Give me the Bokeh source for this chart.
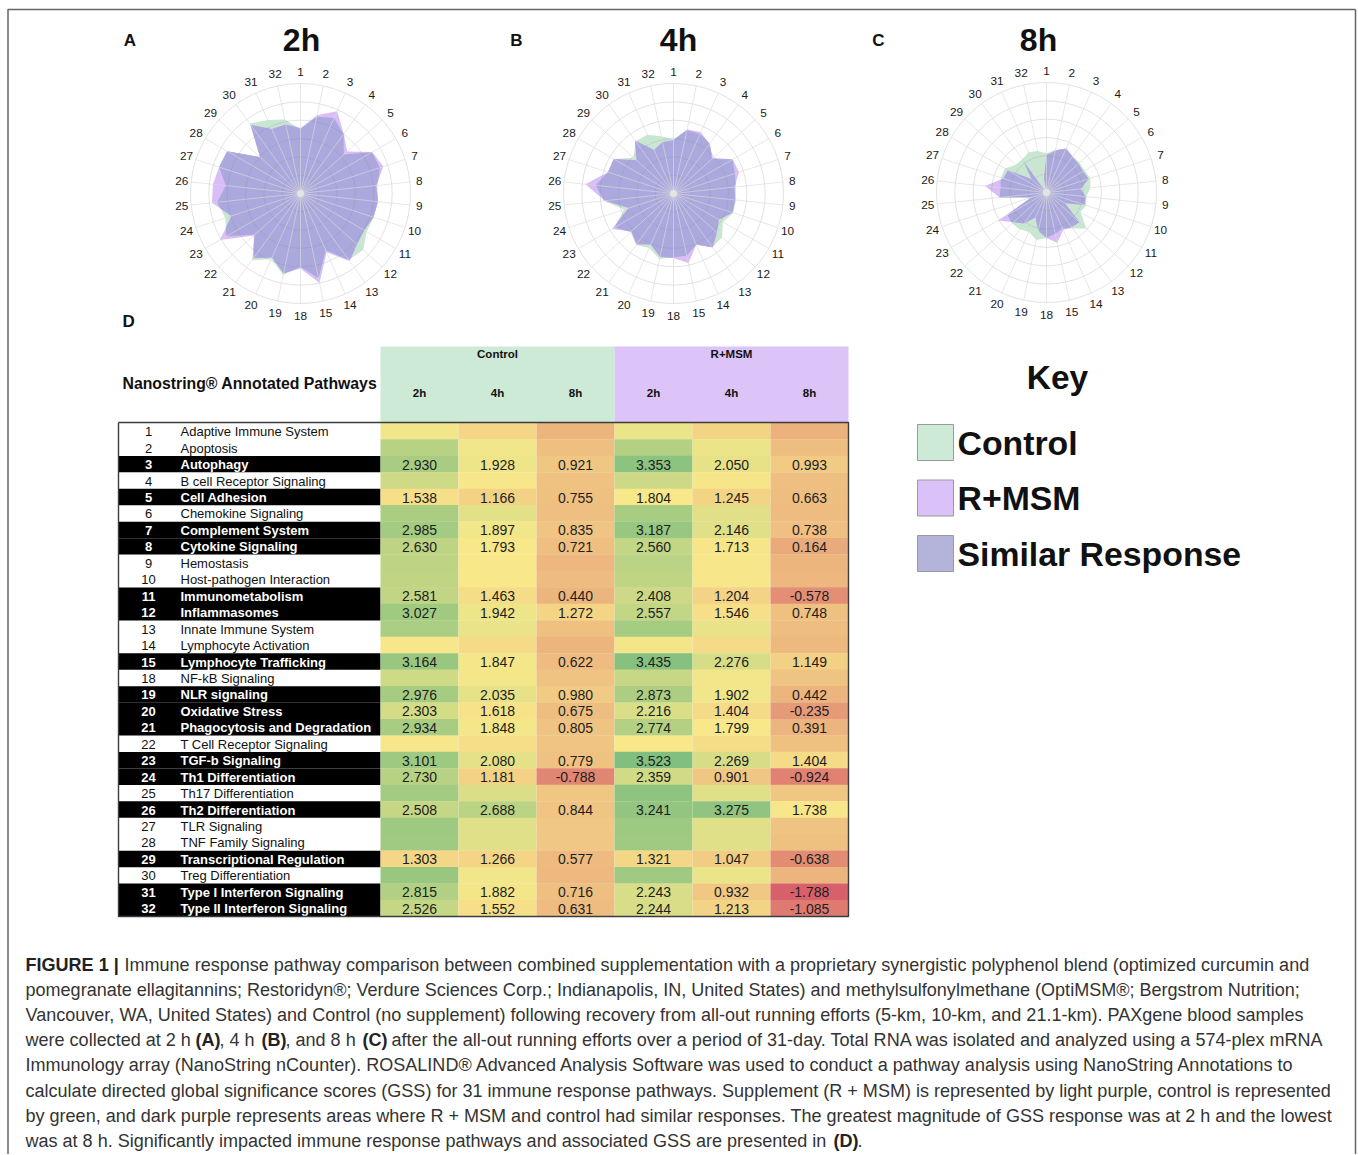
import numpy as np
from bokeh.plotting import figure
from bokeh.models import Range1d, ColumnDataSource
from bokeh.transform import linear_cmap
from bokeh.core.properties import value
from bokeh.embed import file_html
from bokeh.resources import INLINE

# ---------------- data ----------------
pathway_ids = [1, 2, 3, 4, 5, 6, 7, 8, 9, 10, 11, 12, 13, 14, 15,
               18, 19, 20, 21, 22, 23, 24, 25, 26, 27, 28, 29, 30, 31, 32]
pathway_names = [
    "Adaptive Immune System", "Apoptosis", "Autophagy", "B cell Receptor Signaling",
    "Cell Adhesion", "Chemokine Signaling", "Complement System", "Cytokine Signaling",
    "Hemostasis", "Host-pathogen Interaction", "Immunometabolism", "Inflammasomes",
    "Innate Immune System", "Lymphocyte Activation", "Lymphocyte Trafficking",
    "NF-kB Signaling", "NLR signaling", "Oxidative Stress", "Phagocytosis and Degradation",
    "T Cell Receptor Signaling", "TGF-b Signaling", "Th1 Differentiation",
    "Th17 Differentiation", "Th2 Differentiation", "TLR Signaling", "TNF Family Signaling",
    "Transcriptional Regulation", "Treg Differentiation", "Type I Interferon Signaling",
    "Type II Interferon Signaling"]
significant_ids = [3, 5, 7, 8, 11, 12, 15, 19, 20, 21, 23, 24, 26, 29, 31, 32]

control_2h = [1.90, 2.70, 2.930, 2.40, 1.538, 2.92, 2.985, 2.630, 2.65, 2.60, 2.581, 3.027,
              2.90, 1.75, 3.164, 2.40, 2.976, 2.303, 2.934, 1.72, 3.101, 2.730, 3.00, 2.508,
              3.10, 3.05, 1.303, 3.15, 2.815, 2.526]
control_4h = [1.30, 1.90, 1.928, 1.75, 1.166, 2.10, 1.897, 1.793, 1.80, 1.80, 1.463, 1.942,
              2.00, 1.40, 1.847, 1.85, 2.035, 1.618, 1.848, 1.50, 2.080, 1.181, 2.20, 2.688,
              2.15, 2.15, 1.266, 1.90, 1.882, 1.552]
control_8h = [0.45, 0.70, 0.921, 0.78, 0.755, 0.72, 0.835, 0.721, 0.50, 0.60, 0.440, 1.272,
              0.75, 0.45, 0.622, 0.80, 0.980, 0.675, 0.805, 0.85, 0.779, -0.788, 0.90, 0.844,
              0.95, 0.95, 0.577, 0.55, 0.716, 0.631]
rmsm_2h = [1.95, 2.78, 3.353, 2.42, 1.804, 2.95, 3.187, 2.560, 2.68, 2.60, 2.408, 2.557,
           2.98, 1.88, 3.435, 2.50, 2.873, 2.216, 2.774, 1.80, 3.523, 2.359, 3.30, 3.241,
           3.10, 3.05, 1.321, 3.05, 2.243, 2.244]
rmsm_4h = [1.25, 1.95, 2.050, 1.70, 1.245, 2.12, 2.146, 1.713, 1.75, 1.75, 1.204, 1.546,
           2.02, 1.42, 2.276, 1.90, 1.902, 1.404, 1.799, 1.45, 2.269, 0.901, 2.15, 3.275,
           2.15, 2.15, 1.047, 1.95, 0.932, 1.213]
rmsm_8h = [0.35, 0.65, 0.993, 0.72, 0.663, 0.62, 0.738, 0.164, 0.45, 0.50, -0.578, 0.748,
           0.65, 0.55, 1.149, 0.80, 0.442, -0.235, 0.391, 0.75, 1.404, -0.924, 0.90, 1.738,
           0.80, 0.75, -0.638, 0.45, -1.788, -1.085]

time_labels = ["2h", "4h", "8h"]
group_labels = ["Control", "R+MSM"]
key_labels = ["Control", "R+MSM", "Similar Response"]

# ---------------- style ----------------
SANS = "Liberation Sans"
GREEN = "#c7e7d1"
PURPLE = "#d9bdf6"
OVERLAP = "#aba8dd"
KEY_COLORS = ["#ccead6", "#dac2f8", "#b4b4da"]
VMIN, VMAX, R = -1.8, 4.5, 110.0

W, H = 1357, 1154
p = figure(width=W, height=H, x_range=Range1d(0, W), y_range=Range1d(H, 0),
           output_backend="svg", toolbar_location=None, min_border=0,
           x_axis_location=None, y_axis_location=None)
p.grid.visible = False
p.outline_line_color = None
p.background_fill_color = "white"
p.border_fill_color = "white"


def txt(x, y, s, size, bold=False, align="left", color="#111111", baseline="middle"):
    p.text(x=[x], y=[y], text=[s], text_font=value(SANS), text_font_size=size,
           text_font_style="bold" if bold else "normal", text_align=align,
           text_baseline=baseline, text_color=color)


# frame
p.segment(x0=[7, 7.5, 1355], y0=[9, 9, 9], x1=[1355, 7.5, 1355], y1=[9, 1154, 1154],
          line_color="#666666", line_width=1.5)


# ---------------- radar charts ----------------
def to_r(vals):
    v = np.asarray(vals, dtype=float)
    return np.clip((v - VMIN) / (VMAX - VMIN), 0, None) * R


def intersection(cx, cy, rc, rp, th):
    n = len(th)
    xs, ys = [], []
    for i in range(n):
        j = (i + 1) % n
        m = min(rc[i], rp[i])
        xs.append(cx + m * np.sin(th[i]))
        ys.append(cy - m * np.cos(th[i]))
        d1, d2 = rc[i] - rp[i], rc[j] - rp[j]
        if d1 * d2 < 0:
            a1 = np.array([rc[i] * np.sin(th[i]), -rc[i] * np.cos(th[i])])
            b1 = np.array([rc[j] * np.sin(th[j]), -rc[j] * np.cos(th[j])])
            a2 = np.array([rp[i] * np.sin(th[i]), -rp[i] * np.cos(th[i])])
            b2 = np.array([rp[j] * np.sin(th[j]), -rp[j] * np.cos(th[j])])
            M = np.column_stack([b1 - a1, -(b2 - a2)])
            t, _ = np.linalg.solve(M, a2 - a1)
            q = a1 + t * (b1 - a1)
            xs.append(cx + q[0])
            ys.append(cy + q[1])
    return xs, ys


def radar(cx, cy, ctrl, rmsm, title, tx, letter, lx):
    n = len(pathway_ids)
    th = np.arange(n) * 2 * np.pi / n
    rc, rp = to_r(ctrl), to_r(rmsm)
    p.patch(cx + rc * np.sin(th), cy - rc * np.cos(th), fill_color=GREEN, line_color=None)
    p.patch(cx + rp * np.sin(th), cy - rp * np.cos(th), fill_color=PURPLE, line_color=None)
    ix, iy = intersection(cx, cy, rc, rp, th)
    p.patch(ix, iy, fill_color=OVERLAP, line_color=None)
    # rings
    radii = [R * k / 6 for k in range(1, 7)]
    p.circle(x=[cx] * 6, y=[cy] * 6, radius=radii, fill_alpha=0,
             line_color="#8c8ca0", line_alpha=0.25, line_width=1)
    # spokes
    p.segment(x0=[cx] * n, y0=[cy] * n, x1=list(cx + R * np.sin(th)), y1=list(cy - R * np.cos(th)),
              line_color="#dadada", line_alpha=0.65, line_width=1)
    p.circle(x=[cx], y=[cy], radius=3.5, fill_color="#e4e4e4", line_color=None)
    # labels
    lr = 119 + 3 * np.abs(np.cos(th))
    p.text(x=list(cx + lr * np.sin(th)), y=list(cy - lr * np.cos(th)),
           text=[str(i) for i in pathway_ids], text_font=value(SANS), text_font_size="11.8px",
           text_align="center", text_baseline="middle", text_color="#1a1a1a")
    txt(tx, 39, title, "32px", bold=True, align="center")
    txt(lx, 40, letter, "17px", bold=True, align="center")


radar(300, 193, control_2h, rmsm_2h, time_labels[0], 301, "A", 129.5)
radar(673, 193, control_4h, rmsm_4h, time_labels[1], 678, "B", 516)
radar(1046, 192, control_8h, rmsm_8h, time_labels[2], 1038, "C", 878)

# ---------------- heat-map table ----------------
TOP, ROW_H = 422.5, 16.45
LEFT, SPLIT, CELL_W = 118, 380, 78
columns = [control_2h, control_4h, control_8h, rmsm_2h, rmsm_4h, rmsm_8h]

all_vals = np.concatenate([np.asarray(c, float) for c in columns])
lo, hi = float(all_vals.min()), float(all_vals.max())
mid = float(np.percentile(all_vals, 50))
c_low, c_mid, c_high = (216, 96, 106), (248, 232, 138), (128, 191, 126)


def lerp(a, b, t):
    return "#%02x%02x%02x" % tuple(int(round(a[k] + (b[k] - a[k]) * t)) for k in range(3))


NPAL = 256
n1 = int(round(NPAL * (mid - lo) / (hi - lo)))
palette = [lerp(c_low, c_mid, k / (n1 - 1)) for k in range(n1)] + \
          [lerp(c_mid, c_high, k / (NPAL - n1 - 1)) for k in range(NPAL - n1)]

nrow = len(pathway_ids)
row_y = [TOP + (i + 0.5) * ROW_H for i in range(nrow)]
is_sig = [pid in significant_ids for pid in pathway_ids]

# header
p.rect(x=[SPLIT + 1.5 * CELL_W, SPLIT + 4.5 * CELL_W], y=[384, 384], width=3 * CELL_W, height=76,
       fill_color=["#cdead7", "#dcc4f8"], line_color=None)
txt(SPLIT + 1.5 * CELL_W, 353.5, group_labels[0], "11.5px", bold=True, align="center")
txt(SPLIT + 4.5 * CELL_W, 353.5, group_labels[1], "11.5px", bold=True, align="center")
for g in range(2):
    for k, t in enumerate(time_labels):
        txt(SPLIT + (3 * g + k + 0.5) * CELL_W, 392, t, "11.5px", bold=True, align="center")
txt(122, 383, "Nanostring® Annotated Pathways", "15.8px", bold=True)
txt(122, 321, "D", "17px", bold=True)

# black bars for significant rows
sig_y = [row_y[i] for i in range(nrow) if is_sig[i]]
p.rect(x=[(LEFT + SPLIT) / 2] * len(sig_y), y=sig_y, width=SPLIT - LEFT, height=ROW_H,
       fill_color="black", line_color=None)

# cells
cx_list, cy_list, cv_list = [], [], []
for c, col in enumerate(columns):
    for i in range(nrow):
        cx_list.append(SPLIT + (c + 0.5) * CELL_W)
        cy_list.append(row_y[i])
        cv_list.append(col[i])
src = ColumnDataSource(dict(x=cx_list, y=cy_list, v=cv_list))
p.rect(x="x", y="y", width=CELL_W, height=ROW_H + 0.3, source=src,
       fill_color=linear_cmap("v", palette, lo, hi), line_color=None)

# value labels (significant rows only)
vx, vy, vt = [], [], []
for c, col in enumerate(columns):
    for i in range(nrow):
        if is_sig[i]:
            vx.append(SPLIT + (c + 0.5) * CELL_W)
            vy.append(row_y[i] + 0.5)
            vt.append("%.3f" % col[i])
p.text(x=vx, y=vy, text=vt, text_font=value(SANS), text_font_size="14px",
       text_align="center", text_baseline="middle", text_color="#1e1e1e")

# row labels
for i in range(nrow):
    sig = is_sig[i]
    col = "white" if sig else "#111111"
    txt(148, row_y[i] + 0.5, str(pathway_ids[i]), "13px", bold=sig, align="center", color=col)
    txt(180, row_y[i] + 0.5, pathway_names[i], "13px", bold=sig, color=col)

# table border
bottom = TOP + nrow * ROW_H
p.multi_line(xs=[[LEFT, LEFT, SPLIT + 6 * CELL_W, SPLIT + 6 * CELL_W, LEFT]],
             ys=[[TOP - 0.5, bottom, bottom, TOP - 0.5, TOP - 0.5]],
             line_color="#3c3c3c", line_width=1.4)

# ---------------- key ----------------
txt(1057, 377, "Key", "33.5px", bold=True, align="center")
key_y = [442, 497.5, 553]
p.rect(x=[935] * 3, y=key_y, width=36, height=36, fill_color=KEY_COLORS,
       line_color="#9a9a9a", line_width=1)
for k, lab in enumerate(key_labels):
    txt(957, key_y[k], lab, "33.8px", bold=True)

# ---------------- caption ----------------
CAP = "18.05px"
CAP_COL = "#333333"
caption = [
    [("FIGURE 1 |", True, 25),
     ("Immune response pathway comparison between combined supplementation with a proprietary synergistic polyphenol blend (optimized curcumin and", False, 124)],
    [("pomegranate ellagitannins; Restoridyn®; Verdure Sciences Corp.; Indianapolis, IN, United States) and methylsulfonylmethane (OptiMSM®; Bergstrom Nutrition;", False, 25)],
    [("Vancouver, WA, United States) and Control (no supplement) following recovery from all-out running efforts (5-km, 10-km, and 21.1-km). PAXgene blood samples", False, 25)],
    [("were collected at 2 h", False, 25), ("(A)", True, 195), (", 4 h", False, 219),
     ("(B)", True, 261), (", and 8 h", False, 285), ("(C)", True, 362),
     ("after the all-out running efforts over a period of 31-day. Total RNA was isolated and analyzed using a 574-plex mRNA", False, 391)],
    [("Immunology array (NanoString nCounter). ROSALIND® Advanced Analysis Software was used to conduct a pathway analysis using NanoString Annotations to", False, 25)],
    [("calculate directed global significance scores (GSS) for 31 immune response pathways. Supplement (R + MSM) is represented by light purple, control is represented", False, 25)],
    [("by green, and dark purple represents areas where R + MSM and control had similar responses. The greatest magnitude of GSS response was at 2 h and the lowest", False, 25)],
    [("was at 8 h. Significantly impacted immune response pathways and associated GSS are presented in", False, 25),
     ("(D)", True, 833), (".", False, 857)],
]
for li, segs in enumerate(caption):
    y = 964 + li * 25.2
    for s, b, x in segs:
        txt(x, y, s, CAP, bold=b, color=CAP_COL if not b else "#222222")

open("out.html", "w").write(file_html(p, INLINE))
